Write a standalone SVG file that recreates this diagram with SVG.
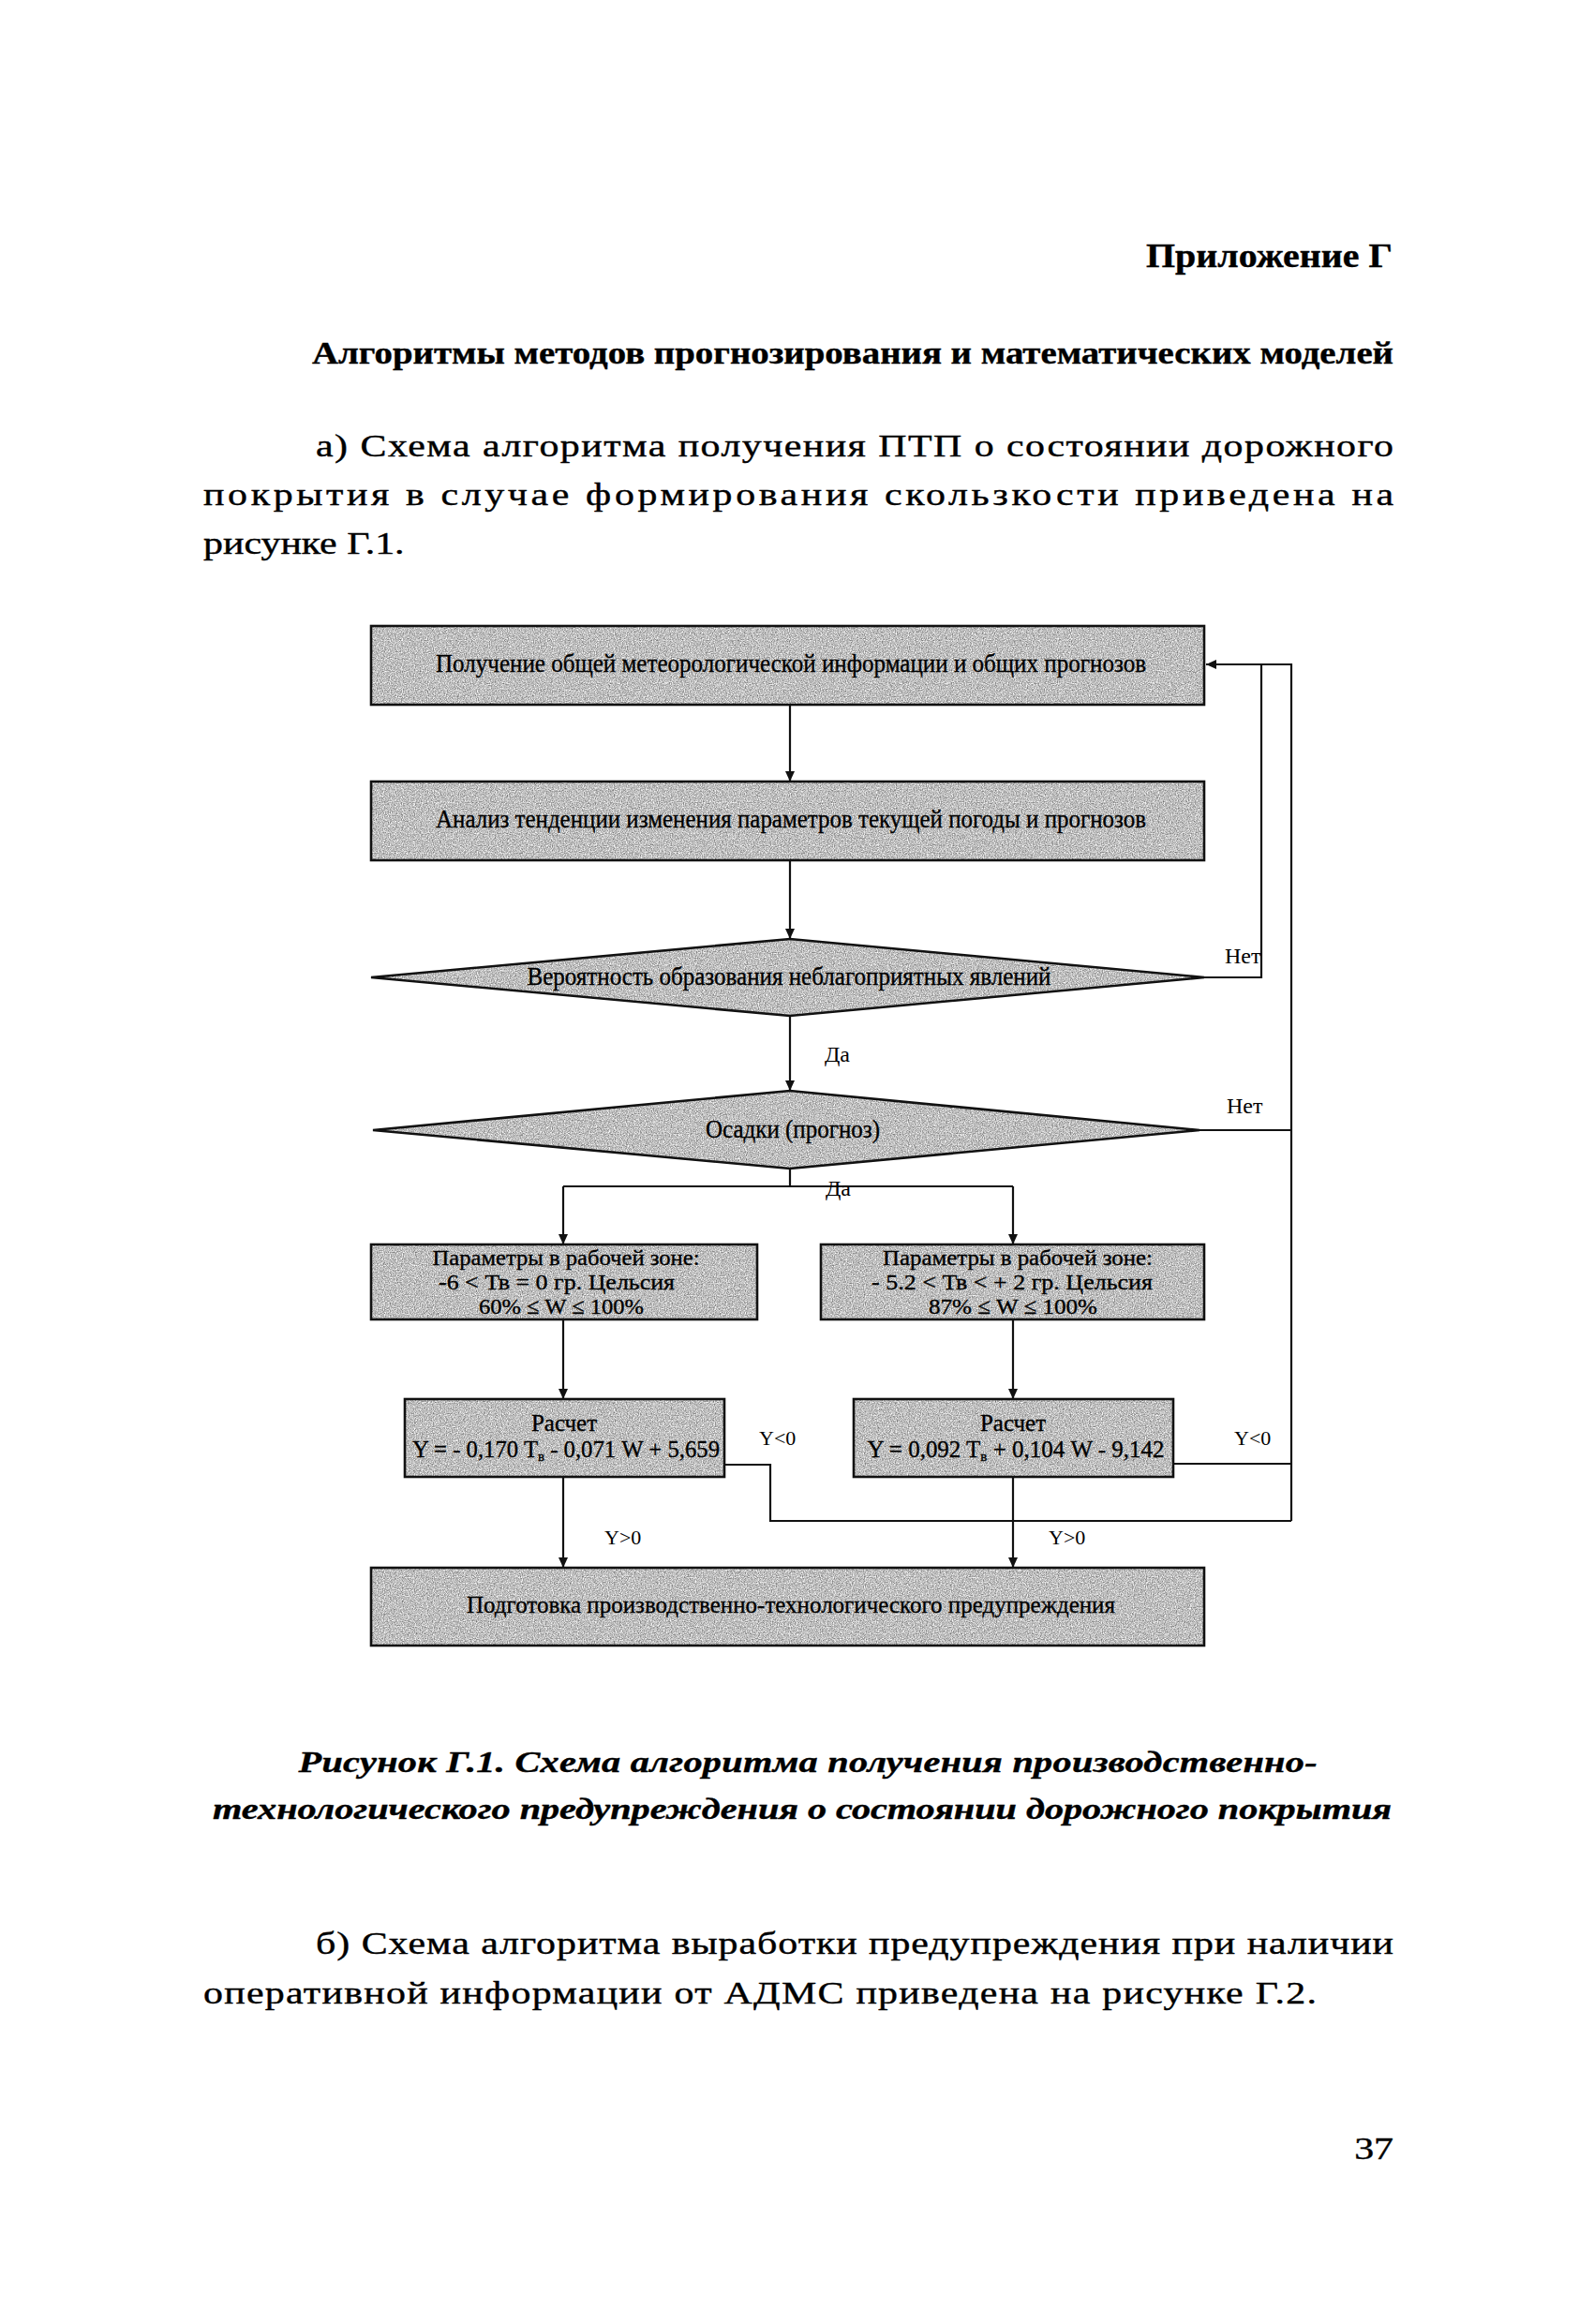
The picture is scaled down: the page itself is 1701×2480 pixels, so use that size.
<svg xmlns="http://www.w3.org/2000/svg" width="1701" height="2480" viewBox="0 0 1701 2480">
<style>
.page{font-family:"Liberation Serif","Times New Roman",serif;fill:#000;stroke:#000;stroke-width:0.4}
.fillg{fill:#b8b8b8;stroke:none;filter:url(#grain)}
.outline{fill:none;stroke:#111;stroke-width:2.6}
.dt{font-family:"Liberation Serif","Times New Roman",serif;fill:#000;text-anchor:middle;stroke:#000;stroke-width:0.35}
.lbl{font-family:"Liberation Serif","Times New Roman",serif;fill:#000;font-size:22px}
.con{fill:none;stroke:#111;stroke-width:2.2}
</style>
<defs>
<marker id="arr" markerUnits="userSpaceOnUse" markerWidth="12" markerHeight="10" refX="11" refY="5" orient="auto">
<path d="M0,0 L11,5 L0,10 z" fill="#111"/>
</marker>
<filter id="grain" x="0" y="0" width="1" height="1" filterUnits="objectBoundingBox" color-interpolation-filters="sRGB">
<feTurbulence type="fractalNoise" baseFrequency="0.85" numOctaves="2" seed="4" result="t"/>
<feColorMatrix in="t" type="matrix" values="0.85 0 0 0 0.32  0.85 0 0 0 0.32  0.85 0 0 0 0.32  0 0 0 0 1" result="g"/>
<feComposite in="g" in2="SourceGraphic" operator="in"/>
</filter>
</defs>
<rect width="1701" height="2480" fill="#fff"/>

<!-- page text -->
<g id="page-text" class="page">
<text x="1223" y="285" font-size="36" font-weight="bold" textLength="263" lengthAdjust="spacingAndGlyphs">Приложение Г</text>
<text x="333" y="388" font-size="34" font-weight="bold" textLength="1154" lengthAdjust="spacingAndGlyphs">Алгоритмы методов прогнозирования и математических моделей</text>
<g transform="scale(1.27,1)" font-size="33">
<text x="265.4" y="487" textLength="905.5">а) Схема алгоритма получения ПТП о состоянии дорожного</text>
<text x="170.9" y="539" textLength="1000">покрытия в случае формирования скользкости приведена на</text>
<text x="170.9" y="591">рисунке Г.1.</text>
<text x="265.4" y="2085" textLength="905.5">б) Схема алгоритма выработки предупреждения при наличии</text>
<text x="170.9" y="2138" textLength="935.4">оперативной информации от АДМС приведена на рисунке Г.2.</text>
<text x="1170.9" y="2304" text-anchor="end">37</text>
</g>
<g transform="scale(1.3,1)" font-size="31" font-weight="bold" font-style="italic" text-anchor="middle">
<text x="663.1" y="1891" textLength="836.2">Рисунок Г.1. Схема алгоритма получения производственно-</text>
<text x="658.5" y="1941" textLength="967.7">технологического предупреждения о состоянии дорожного покрытия</text>
</g>
</g>

<!-- connectors -->
<g id="connectors">
<path class="con" d="M843,752 V834" marker-end="url(#arr)"/>
<path class="con" d="M843,918 V1002" marker-end="url(#arr)"/>
<path class="con" d="M843,1084 V1164" marker-end="url(#arr)"/>
<path class="con" d="M1285,1043 H1346 V709 H1287" marker-end="url(#arr)"/>
<path class="con" d="M1280,1206 H1378"/>
<path class="con" d="M1378,1623 V709 H1346"/>
<path class="con" d="M843,1247 V1266"/>
<path class="con" d="M601,1266 H1081"/>
<path class="con" d="M601,1266 V1328" marker-end="url(#arr)"/>
<path class="con" d="M1081,1266 V1328" marker-end="url(#arr)"/>
<path class="con" d="M601,1408 V1493" marker-end="url(#arr)"/>
<path class="con" d="M1081,1408 V1493" marker-end="url(#arr)"/>
<path class="con" d="M773,1563 H822 V1623 H1378"/>
<path class="con" d="M1252,1562 H1378"/>
<path class="con" d="M601,1576 V1673" marker-end="url(#arr)"/>
<path class="con" d="M1081,1576 V1673" marker-end="url(#arr)"/>
</g>

<!-- nodes -->
<g id="node-obtain">
<rect class="fillg" x="396" y="668" width="889" height="84"/>
<rect class="outline" x="396" y="668" width="889" height="84"/>
<text class="dt" x="844" y="717" font-size="28" textLength="758" lengthAdjust="spacingAndGlyphs">Получение общей метеорологической информации и общих прогнозов</text>
</g>
<g id="node-analysis">
<rect class="fillg" x="396" y="834" width="889" height="84"/>
<rect class="outline" x="396" y="834" width="889" height="84"/>
<text class="dt" x="844" y="883" font-size="28" textLength="758" lengthAdjust="spacingAndGlyphs">Анализ тенденции изменения параметров текущей погоды и прогнозов</text>
</g>
<g id="node-probability">
<polygon class="fillg" points="396,1043 843,1002 1285,1043 843,1084"/>
<polygon class="outline" points="396,1043 843,1002 1285,1043 843,1084"/>
<text class="dt" x="842" y="1051" font-size="28" textLength="559" lengthAdjust="spacingAndGlyphs">Вероятность образования неблагоприятных явлений</text>
</g>
<g id="node-precip">
<polygon class="fillg" points="398,1206 843,1164 1280,1206 843,1247"/>
<polygon class="outline" points="398,1206 843,1164 1280,1206 843,1247"/>
<text class="dt" x="846" y="1214" font-size="28" textLength="186" lengthAdjust="spacingAndGlyphs">Осадки (прогноз)</text>
</g>
<g id="node-params-left">
<rect class="fillg" x="396" y="1328" width="412" height="80"/>
<rect class="outline" x="396" y="1328" width="412" height="80"/>
<text class="dt" x="604" y="1350" font-size="24" textLength="285" lengthAdjust="spacingAndGlyphs">Параметры в рабочей зоне:</text>
<text class="dt" x="594" y="1376" font-size="24" textLength="252" lengthAdjust="spacingAndGlyphs">-6 &lt; Тв = 0 гр. Цельсия</text>
<text class="dt" x="599" y="1402" font-size="24" textLength="176" lengthAdjust="spacingAndGlyphs">60% ≤ W ≤ 100%</text>
</g>
<g id="node-params-right">
<rect class="fillg" x="876" y="1328" width="409" height="80"/>
<rect class="outline" x="876" y="1328" width="409" height="80"/>
<text class="dt" x="1086" y="1350" font-size="24" textLength="288" lengthAdjust="spacingAndGlyphs">Параметры в рабочей зоне:</text>
<text class="dt" x="1080" y="1376" font-size="24" textLength="300" lengthAdjust="spacingAndGlyphs">- 5.2 &lt; Тв &lt; + 2 гр. Цельсия</text>
<text class="dt" x="1081" y="1402" font-size="24" textLength="180" lengthAdjust="spacingAndGlyphs">87% ≤ W ≤ 100%</text>
</g>
<g id="node-calc-left">
<rect class="fillg" x="432" y="1493" width="341" height="83"/>
<rect class="outline" x="432" y="1493" width="341" height="83"/>
<text class="dt" x="602" y="1527" font-size="25">Расчет</text>
<text class="dt" x="604" y="1555" font-size="25" textLength="328" lengthAdjust="spacingAndGlyphs">Y = - 0,170 T<tspan font-size="15" dy="4">в</tspan><tspan dy="-4"> - 0,071 W + 5,659</tspan></text>
</g>
<g id="node-calc-right">
<rect class="fillg" x="911" y="1493" width="341" height="83"/>
<rect class="outline" x="911" y="1493" width="341" height="83"/>
<text class="dt" x="1081" y="1527" font-size="25">Расчет</text>
<text class="dt" x="1084" y="1555" font-size="25" textLength="317" lengthAdjust="spacingAndGlyphs">Y = 0,092 T<tspan font-size="15" dy="4">в</tspan><tspan dy="-4"> + 0,104 W - 9,142</tspan></text>
</g>
<g id="node-warning">
<rect class="fillg" x="396" y="1673" width="889" height="83"/>
<rect class="outline" x="396" y="1673" width="889" height="83"/>
<text class="dt" x="844" y="1721" font-size="26" textLength="692" lengthAdjust="spacingAndGlyphs">Подготовка производственно-технологического предупреждения</text>
</g>

<!-- connector labels -->
<g id="labels" class="lbl">
<text x="1307" y="1028" font-size="24">Нет</text>
<text x="1309" y="1188" font-size="24">Нет</text>
<text x="880" y="1133" font-size="24">Да</text>
<text x="881" y="1276" font-size="24">Да</text>
<text x="810" y="1542">Y&lt;0</text>
<text x="1317" y="1542">Y&lt;0</text>
<text x="645" y="1648">Y&gt;0</text>
<text x="1119" y="1648">Y&gt;0</text>
</g>
</svg>
